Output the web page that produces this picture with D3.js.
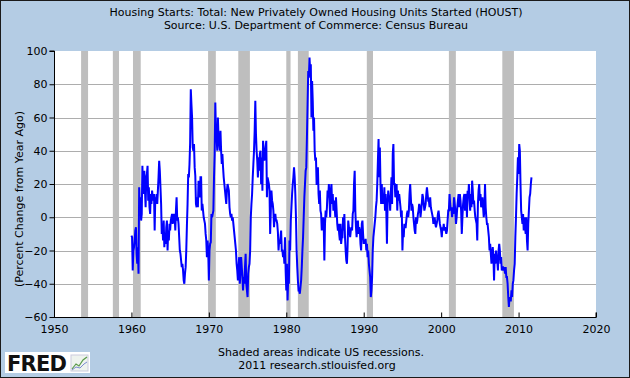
<!DOCTYPE html>
<html><head><meta charset="utf-8">
<script src="https://cdn.jsdelivr.net/npm/d3@7/dist/d3.min.js"></script>
<style>body{margin:0;background:#fff}svg{display:block}text{font-family:"DejaVu Sans",Verdana,sans-serif}</style>
</head><body><svg id="c" width="630" height="378"></svg>
<script>
const title1 = "Housing Starts: Total: New Privately Owned Housing Units Started (HOUST)";
const title2 = "Source: U.S. Department of Commerce: Census Bureau";
const yTitle = "(Percent Change from Year Ago)";
const foot1 = "Shaded areas indicate US recessions.";
const foot2 = "2011 research.stlouisfed.org";
const xTicks = [1950,1960,1970,1980,1990,2000,2010,2020];
const yTicks = [-60,-40,-20,0,20,40,60,80,100];
const recessions = [[1953.5,1954.4],[1957.6,1958.4],[1960.2,1961.2],[1969.9,1970.9],[1973.8,1975.3],[1980.0,1980.55],[1981.5,1982.9],[1990.4,1991.2],[2001.0,2001.9],[2007.9,2009.4]];
const startYear = 1960;
// monthly percent change from year ago, Jan 1960 .. Sep 2011
const v1960s = [
 -11,-12,-32,-20,-18,-14,-8,-6,-22,-28,-18,-34,
 18,6,12,-2,2,31,14,20,28,16,6,24,
 26,31,10,18,6,2,14,8,16,12,10,14,
 -8,12,10,14,8,16,24,34,28,18,8,-10,
 -4,-14,-2,-18,-10,-16,-6,-2,-20,-8,-14,-4,
 -8,-2,0,2,-4,0,2,0,-8,4,12,-2,
 0,-4,-12,-20,-22,-26,-30,-28,-32,-38,-40,-34,
 -30,-20,-5,8,26,24,32,45,77,68,60,42,
 40,44,30,25,8,6,12,6,22,16,12,24,
 24,4,8,4,0,-2,-4,-10,-14,-24,-14,-20];
const v1970s = [
 -38,-20,-16,-15,2,0,2,4,24,38,69,50,
 48,40,60,48,44,40,52,40,32,38,30,24,
 20,16,12,8,16,20,18,16,6,2,0,2,
 -2,0,-4,-8,-12,-16,-20,-28,-32,-38,-30,-24,
 -40,-32,-24,-30,-36,-44,-36,-40,-30,-22,-40,-44,
 -48,-34,-30,-28,-20,0,8,14,24,32,40,52,
 70,50,40,34,24,36,28,38,40,20,36,16,
 46,40,34,38,42,46,12,24,22,20,16,-10,
 4,16,10,8,4,-6,0,2,-2,-2,-4,-9,
 -20,-14,-16,-12,-8,-20,-20,-24,-20,-28,-12,-32];
const v1980s = [
 -44,-28,-50,-36,-40,-14,-20,-2,6,14,20,24,
 30,24,14,0,-20,-30,-38,-44,-44,-46,-42,-38,
 -30,-20,-12,0,12,20,28,30,48,68,88,84,
 96,88,92,60,82,70,52,60,40,34,36,20,
 20,30,14,8,16,4,2,-8,-2,0,-4,-26,
 -4,4,0,6,16,12,20,10,0,16,20,8,
 14,4,10,6,0,12,4,-4,-8,-4,-10,-14,
 -4,-16,-12,-12,0,-8,2,-12,-20,-26,-28,-18,
 -2,-6,-8,-12,-8,-6,-8,2,4,20,28,4,
 -6,-12,-4,-2,-10,-6,-8,-16,-20,-4,-2,-10];
const v1990s = [
 -16,-14,-16,-13,-20,-16,-24,-20,-28,-32,-36,-48,
 -44,-36,-20,-12,-8,-4,0,6,10,20,34,47,
 24,42,20,8,20,8,12,8,18,4,14,4,
 -16,8,16,12,12,4,14,24,8,38,44,20,
 20,12,16,20,4,16,10,14,10,6,0,4,
 -20,-8,-12,-4,-6,-6,-2,2,4,0,4,14,
 20,12,4,8,6,0,-4,-8,-10,0,-4,-2,
 2,4,8,6,0,4,8,14,12,8,4,6,
 8,14,18,14,10,10,6,12,6,4,2,0,
 -4,-2,0,-4,-6,-4,-2,2,4,0,-4,-6];
const v2000s = [
 -8,-12,-6,-8,-4,-8,-6,-8,-10,-8,-2,4,
 4,14,8,4,6,0,6,2,12,8,4,-4,
 0,6,10,14,6,14,10,4,-10,0,8,12,
 14,4,12,14,0,16,12,20,10,4,14,6,
 22,16,8,10,4,0,-2,-4,-14,8,16,20,
 10,14,6,8,12,6,0,4,20,6,0,-4,
 -4,-8,-12,-20,-16,-22,-28,-22,-18,-24,-38,-22,
 -28,-20,-24,-26,-32,-20,-16,-20,-28,-24,-32,-30,
 -30,-32,-30,-34,-30,-36,-36,-40,-48,-54,-48,-50,
 -50,-44,-48,-40,-38,-32,-28,-12,0,14,24,36];
const v2010s = [
 26,44,40,20,4,0,-4,2,-8,0,-6,-10,
 0,-14,-20,-4,4,12,14,20,24];

const values = [].concat(v1960s, v1970s, v1980s, v1990s, v2000s, v2010s);
const data = values.map((v,i)=>({t: startYear + i/12, v}));

const W=630,H=378;
const m={l:54,r:596,t:51,b:317};
const svg=d3.select("#c");
svg.append("rect").attr("x",0.5).attr("y",0.5).attr("width",W-1).attr("height",H-1)
  .attr("fill","#b4cce4").attr("stroke","#1a1a1a").attr("stroke-width",1);

const x=d3.scaleLinear().domain([1950,2020]).range([m.l,m.r]);
const y=d3.scaleLinear().domain([-60,100]).range([m.b,m.t]);

svg.append("rect").attr("x",m.l).attr("y",m.t).attr("width",m.r-m.l).attr("height",m.b-m.t).attr("fill","#fff");

// gridlines
svg.append("g").selectAll("line").data(yTicks.filter(d=>d>-60&&d<100)).join("line")
  .attr("x1",m.l).attr("x2",m.r).attr("y1",d=>Math.round(y(d))+0.5).attr("y2",d=>Math.round(y(d))+0.5)
  .attr("stroke","#adadad").attr("stroke-width",1);

// recessions
svg.append("g").selectAll("rect").data(recessions).join("rect")
  .attr("x",d=>x(d[0])).attr("width",d=>x(d[1])-x(d[0]))
  .attr("y",m.t).attr("height",m.b-m.t).attr("fill","#bebebe");

// line
const line=d3.line().x(d=>x(d.t)).y(d=>y(d.v));
svg.append("path").datum(data).attr("d",line).attr("fill","none")
  .attr("stroke","#0000ff").attr("stroke-width",2).attr("stroke-linejoin","miter");

// axes
const yAxis=d3.axisLeft(y).tickValues(yTicks).tickSize(5).tickPadding(2).tickFormat(d3.format("d"));
const gy=svg.append("g").attr("transform",`translate(${m.l+0.5},0)`).call(yAxis);
const xAxis=d3.axisBottom(x).tickValues(xTicks).tickSize(-5).tickPadding(8).tickFormat(d3.format("d"));
const gx=svg.append("g").attr("transform",`translate(0,${m.b+0.5})`).call(xAxis);
[gx,gy].forEach(g=>{
  g.select(".domain").attr("stroke","#000");
  g.selectAll(".tick line").attr("stroke","#000");
  g.selectAll("text").attr("fill","#000").style("font-size","11px").style("font-family",'"DejaVu Sans",Verdana,sans-serif');
});
gy.select(".domain").attr("d",`M-5,${m.t}H0V${m.b}`);
gx.select(".domain").attr("d",`M${m.l},0H${m.r}V-5`);

// titles
svg.append("text").attr("x",316).attr("y",16).attr("text-anchor","middle").style("font-size","11px").text(title1);
svg.append("text").attr("x",316).attr("y",29).attr("text-anchor","middle").style("font-size","11px").text(title2);
svg.append("text").attr("transform","translate(23,199) rotate(-90)").attr("text-anchor","middle").style("font-size","11px").text(yTitle);
svg.append("text").attr("x",321).attr("y",356).attr("text-anchor","middle").style("font-size","11px").text(foot1);
svg.append("text").attr("x",317).attr("y",369).attr("text-anchor","middle").style("font-size","11px").text(foot2);

// FRED logo
const lg=svg.append("g");
lg.append("rect").attr("x",5).attr("y",352).attr("width",85).attr("height",21).attr("fill","#fff");
lg.append("text").attr("x",7).attr("y",371).style("font-family","'DejaVu Sans',sans-serif").style("font-weight","bold").style("font-size","21px").attr("textLength",60).attr("fill","#111").text("FRED");
lg.append("rect").attr("x",71).attr("y",355).attr("width",17).attr("height",16).attr("fill","#eef3ee").attr("stroke","#ccd","stroke-width",0.5);
lg.append("path").attr("d","M72,369L76,364L79,366L83,360L87,357").attr("fill","none").attr("stroke","#5a9a4a").attr("stroke-width",1.2);
lg.append("path").attr("d","M72,370L76,367L80,368L84,364L87,362").attr("fill","none").attr("stroke","#7a8ad0").attr("stroke-width",1);
</script></body></html>
